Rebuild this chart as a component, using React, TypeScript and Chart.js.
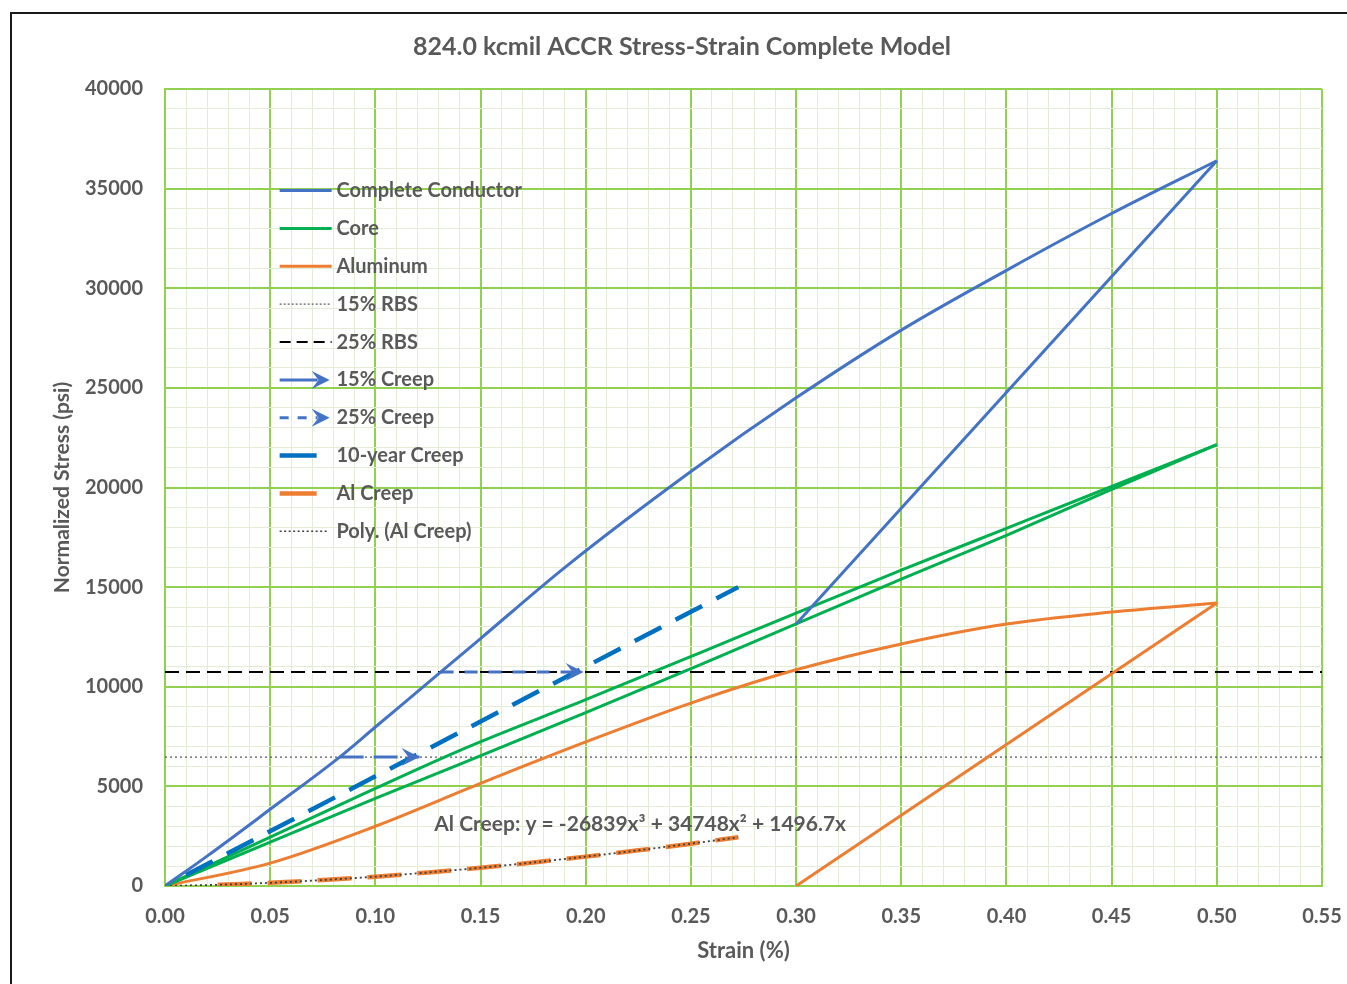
import React, { useEffect, useRef } from "react";
import { Chart, registerables } from "chart.js";

Chart.register(...registerables);

// ---------- data ----------
const titleText = "824.0 kcmil ACCR Stress-Strain Complete Model";
const xAxisTitle = "Strain (%)";
const yAxisTitle = "Normalized Stress (psi)";
const equationText = "Al Creep: y = -26839x³ + 34748x² + 1496.7x";

const conductorLoadX = [0, 0.02, 0.05, 0.083, 0.1, 0.131, 0.15, 0.19, 0.25, 0.3, 0.35, 0.4, 0.45, 0.5];
const conductorLoadY = [0, 1500, 3850, 6470, 7980, 10730, 12420, 15980, 20800, 24500, 27900, 30900, 33750, 36400];
const conductorUnloadX = [0.5, 0.3];
const conductorUnloadY = [36400, 13150];

const coreLoadX = [0, 0.05, 0.1, 0.14, 0.2, 0.254, 0.3, 0.35, 0.4, 0.45, 0.5];
const coreLoadY = [0, 2450, 4900, 6800, 9350, 11690, 13700, 15850, 17950, 20050, 22150];
const coreUnloadX = [0.5, 0.45, 0.4, 0.35, 0.3, 0.254, 0.2, 0.14, 0.1, 0.05, 0];
const coreUnloadY = [22150, 19900, 17600, 15400, 13150, 11090, 8700, 6100, 4400, 2200, 0];

const aluminumLoadX = [0, 0.05, 0.1, 0.15, 0.2, 0.25, 0.3, 0.35, 0.4, 0.45, 0.5];
const aluminumLoadY = [0, 1150, 3000, 5150, 7230, 9180, 10850, 12150, 13150, 13750, 14200];
const aluminumUnloadX = [0.5, 0.3];
const aluminumUnloadY = [14200, 0];

const rbs15X = [0, 0.55];
const rbs15Y = [6470, 6470];
const rbs25X = [0, 0.55];
const rbs25Y = [10740, 10740];

const creep15X = [0.083, 0.121];
const creep15Y = [6470, 6470];
const creep25X = [0.131, 0.199];
const creep25Y = [10740, 10740];

const creep10yX = [0.01, 0.2725];
const creep10yY = [550, 15000];

const alCreepX = [0.025, 0.05, 0.075, 0.1, 0.125, 0.15, 0.175, 0.2, 0.225, 0.25, 0.2725];
const alCreepY = [60, 160, 300, 470, 680, 915, 1180, 1475, 1790, 2125, 2445];

const polyX = [0, 0.025, 0.05, 0.075, 0.1, 0.125, 0.15, 0.175, 0.2, 0.225, 0.25, 0.2725];
const polyY = [0, 60, 160, 300, 470, 680, 915, 1180, 1475, 1790, 2125, 2445];

const xMajorLabels = ["0.00", "0.05", "0.10", "0.15", "0.20", "0.25", "0.30", "0.35", "0.40", "0.45", "0.50", "0.55"];
const yMajorLabels = ["0", "5000", "10000", "15000", "20000", "25000", "30000", "35000", "40000"];

// ---------- styling ----------
const FONT = "Lato";
const TEXT = "#595959";
const MAJOR = "#92D050";
const MINOR = "#E4ECD6";
const BLUE = "#4472C4";
const GREEN = "#00B050";
const ORANGE = "#ED7D31";
const DARKBLUE = "#0070C0";

const pts = (xs: number[], ys: number[]) => xs.map((x, i) => ({ x, y: ys[i] }));

type LegendItem = { label: string; color: string; width: number; dash: number[]; len: number; arrow?: boolean };
const legendItems: LegendItem[] = [
  { label: "Complete Conductor", color: BLUE, width: 3, dash: [], len: 52 },
  { label: "Core", color: GREEN, width: 3, dash: [], len: 52 },
  { label: "Aluminum", color: ORANGE, width: 3, dash: [], len: 52 },
  { label: "15% RBS", color: "#595959", width: 1.2, dash: [2, 2], len: 50 },
  { label: "25% RBS", color: "#000000", width: 2, dash: [11, 6], len: 52 },
  { label: "15% Creep", color: BLUE, width: 3, dash: [], len: 50, arrow: true },
  { label: "25% Creep", color: BLUE, width: 3, dash: [9, 9], len: 50, arrow: true },
  { label: "10-year Creep", color: DARKBLUE, width: 4.5, dash: [], len: 37 },
  { label: "Al Creep", color: ORANGE, width: 4.5, dash: [], len: 37 },
  { label: "Poly. (Al Creep)", color: "#404040", width: 1.5, dash: [2, 2.5], len: 48 },
];

function drawArrowHead(ctx: CanvasRenderingContext2D, x: number, y: number, angle: number, color: string, size = 18) {
  ctx.save();
  ctx.translate(x, y);
  ctx.rotate(angle);
  ctx.fillStyle = color;
  ctx.beginPath();
  ctx.moveTo(0, 0);
  ctx.lineTo(-size, -size * 0.5);
  ctx.lineTo(-size * 0.62, 0);
  ctx.lineTo(-size, size * 0.5);
  ctx.closePath();
  ctx.fill();
  ctx.restore();
}

const decorPlugin = {
  id: "decor",
  beforeDraw(chart: any) {
    const ctx = chart.ctx;
    ctx.save();
    ctx.fillStyle = "#ffffff";
    ctx.fillRect(0, 0, chart.width, chart.height);
    ctx.strokeStyle = "#1a1a1a";
    ctx.lineWidth = 2;
    ctx.strokeRect(11, 13, 1400, 1000);
    ctx.font = `bold 25px ${FONT}`;
    ctx.fillStyle = TEXT;
    ctx.textAlign = "center";
    ctx.textBaseline = "middle";
    ctx.fillText(titleText, 682, 47);
    ctx.restore();
  },
  afterDatasetsDraw(chart: any) {
    const ctx = chart.ctx;
    chart.data.datasets.forEach((ds: any, i: number) => {
      if (!ds.arrow) return;
      const meta = chart.getDatasetMeta(i);
      const n = meta.data.length;
      const a = meta.data[n - 2];
      const b = meta.data[n - 1];
      const ang = Math.atan2(b.y - a.y, b.x - a.x);
      drawArrowHead(ctx, b.x, b.y, ang, ds.borderColor);
    });
    ctx.save();
    ctx.font = `bold 21px ${FONT}`;
    ctx.fillStyle = TEXT;
    ctx.textAlign = "left";
    ctx.textBaseline = "middle";
    const xs = chart.scales.x;
    const ys = chart.scales.y;
    ctx.fillText(equationText, xs.getPixelForValue(0.128), ys.getPixelForValue(3100));
    ctx.restore();
  },
  afterDraw(chart: any) {
    const ctx = chart.ctx;
    const xs = chart.scales.x;
    const ys = chart.scales.y;
    const x0 = xs.getPixelForValue(0.0545);
    const textX = xs.getPixelForValue(0.0815);
    const yStart = ys.getPixelForValue(34900);
    const step = ys.getPixelForValue(0) - ys.getPixelForValue(1900);
    ctx.save();
    legendItems.forEach((it, i) => {
      const y = yStart + i * step;
      ctx.strokeStyle = it.color;
      ctx.lineWidth = it.width;
      ctx.setLineDash(it.dash);
      ctx.lineCap = "butt";
      ctx.beginPath();
      const end = it.arrow ? x0 + it.len - 12 : x0 + it.len;
      ctx.moveTo(x0, y);
      ctx.lineTo(end, y);
      ctx.stroke();
      ctx.setLineDash([]);
      if (it.arrow) drawArrowHead(ctx, x0 + it.len, y, 0, it.color, 18);
      ctx.font = `bold 20px ${FONT}`;
      ctx.fillStyle = TEXT;
      ctx.textAlign = "left";
      ctx.textBaseline = "middle";
      ctx.fillText(it.label, textX, y);
    });
    ctx.restore();
  },
};

const isMajorX = (v: number) => Math.round(v * 100) % 5 === 0;
const isMajorY = (v: number) => Math.round(v) % 5000 === 0;

export default function App() {
  const ref = useRef<HTMLCanvasElement | null>(null);

  useEffect(() => {
    document.body.style.margin = "0";
    document.body.style.overflow = "hidden";
    if (!ref.current) return;

    const base = { showLine: true, pointRadius: 0, pointHoverRadius: 0, fill: false, tension: 0 };
    const curve = { cubicInterpolationMode: "monotone" };
    const chart = new Chart(ref.current, {
      type: "scatter",
      data: {
        datasets: [
          { ...base, label: "15% Creep", data: pts(creep15X, creep15Y), borderColor: BLUE, borderWidth: 3, borderDash: [24, 10], arrow: true } as any,
          { ...base, label: "25% Creep", data: pts(creep25X, creep25Y), borderColor: BLUE, borderWidth: 3, borderDash: [13, 11], arrow: true } as any,
          { ...base, ...curve, label: "Complete Conductor", data: pts(conductorLoadX, conductorLoadY), borderColor: BLUE, borderWidth: 3 },
          { ...base, label: "Complete Conductor (unload)", data: pts(conductorUnloadX, conductorUnloadY), borderColor: BLUE, borderWidth: 3 },
          { ...base, label: "10-year Creep", data: pts(creep10yX, creep10yY), borderColor: DARKBLUE, borderWidth: 4.5, borderDash: [30, 16] },
          { ...base, ...curve, label: "Core", data: pts(coreLoadX, coreLoadY), borderColor: GREEN, borderWidth: 3 },
          { ...base, label: "Core (unload)", data: pts(coreUnloadX, coreUnloadY), borderColor: GREEN, borderWidth: 3 },
          { ...base, ...curve, label: "Poly. (Al Creep)", data: pts(polyX, polyY), borderColor: "#404040", borderWidth: 1.8, borderDash: [2, 3] },
          { ...base, ...curve, label: "Al Creep", data: pts(alCreepX, alCreepY), borderColor: ORANGE, borderWidth: 4.5, borderDash: [34, 16] },
          { ...base, ...curve, label: "Aluminum", data: pts(aluminumLoadX, aluminumLoadY), borderColor: ORANGE, borderWidth: 3 },
          { ...base, label: "Aluminum (unload)", data: pts(aluminumUnloadX, aluminumUnloadY), borderColor: ORANGE, borderWidth: 3 },
          { ...base, label: "25% RBS", data: pts(rbs25X, rbs25Y), borderColor: "#000000", borderWidth: 2, borderDash: [14, 7] },
          { ...base, label: "15% RBS", data: pts(rbs15X, rbs15Y), borderColor: "#555555", borderWidth: 1.3, borderDash: [2, 3] },
        ],
      },
      options: {
        responsive: false,
        animation: false,
        events: [],
        layout: { padding: { left: 0, right: 25, top: 89, bottom: 0 } },
        plugins: {
          legend: { display: false },
          tooltip: { enabled: false },
          title: { display: false },
        },
        scales: {
          x: {
            type: "linear",
            min: 0,
            max: 0.55,
            afterBuildTicks: (s: any) => {
              const t = [];
              for (let i = 0; i <= 55; i++) t.push({ value: i / 100 });
              s.ticks = t;
            },
            afterFit: (s: any) => {
              s.height = 98;
              s.paddingLeft = 0;
              s.paddingRight = 0;
            },
            ticks: {
              autoSkip: false,
              maxRotation: 0,
              minRotation: 0,
              padding: 19,
              color: TEXT,
              font: { family: FONT, size: 20, weight: "bold" },
              callback: (v: any) => (isMajorX(Number(v)) ? xMajorLabels[Math.round(Number(v) * 20)] : ""),
            },
            grid: {
              drawTicks: false,
              color: (c: any) => (c.tick && isMajorX(c.tick.value) ? MAJOR : MINOR),
              lineWidth: (c: any) => (c.tick && isMajorX(c.tick.value) ? 2 : 1),
            },
            border: { display: true, color: MAJOR, width: 2 },
            title: {
              display: true,
              text: xAxisTitle,
              color: TEXT,
              font: { family: FONT, size: 22, weight: "bold" },
              padding: { top: 0, bottom: 20 },
            },
          },
          y: {
            type: "linear",
            min: 0,
            max: 40000,
            afterBuildTicks: (s: any) => {
              const t = [];
              for (let i = 0; i <= 40; i++) t.push({ value: i * 1000 });
              s.ticks = t;
            },
            afterFit: (s: any) => {
              s.width = 165;
              s.paddingTop = 0;
              s.paddingBottom = 0;
            },
            ticks: {
              autoSkip: false,
              padding: 22,
              color: TEXT,
              font: { family: FONT, size: 20, weight: "bold" },
              callback: (v: any) => (isMajorY(Number(v)) ? yMajorLabels[Math.round(Number(v) / 5000)] : ""),
            },
            grid: {
              drawTicks: false,
              color: (c: any) => (c.tick && isMajorY(c.tick.value) ? MAJOR : MINOR),
              lineWidth: (c: any) => (c.tick && isMajorY(c.tick.value) ? 2 : 1),
            },
            border: { display: true, color: MAJOR, width: 2 },
            title: {
              display: true,
              text: yAxisTitle,
              color: TEXT,
              font: { family: FONT, size: 21, weight: "bold" },
              padding: { top: 50, bottom: 0 },
            },
          },
        },
      } as any,
      plugins: [decorPlugin],
    });
    return () => chart.destroy();
  }, []);

  return (
    <div style={{ width: 1347, height: 984, position: "relative" }}>
      <canvas ref={ref} width={1347} height={984} style={{ display: "block" }} />
    </div>
  );
}
